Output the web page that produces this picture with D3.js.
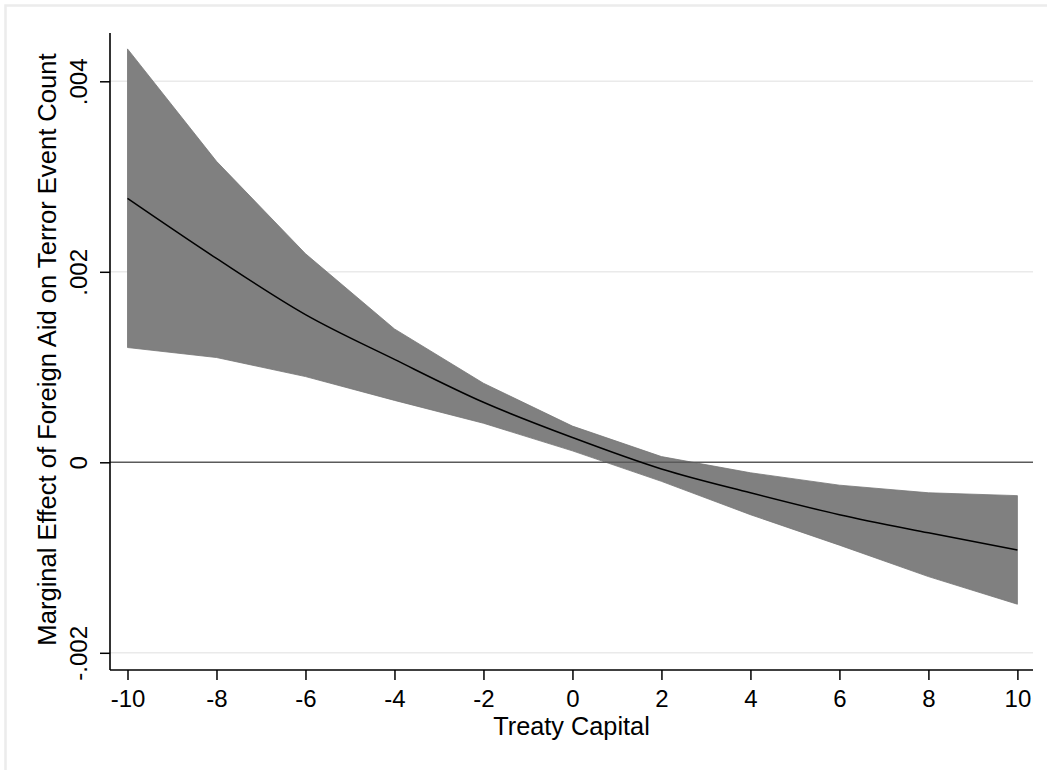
<!DOCTYPE html>
<html>
<head>
<meta charset="utf-8">
<script src="https://cdn.jsdelivr.net/npm/d3@7/dist/d3.min.js"></script>
<style>
  html, body { margin: 0; padding: 0; background: #ffffff; }
  svg { display: block; }
  text { font-family: "Liberation Sans", Arial, sans-serif; fill: #000; }
</style>
</head>
<body>
<svg id="chart" width="1047" height="770"></svg>
<script>
// Data (marginal effect)
const treatyCapital = [-10, -8, -6, -4, -2, 0, 2, 4, 6, 8, 10];
const marginalEffect = [0.00277, 0.00214, 0.00155, 0.00108, 0.00063, 0.00026, -0.00007, -0.00032, -0.00055, -0.00074, -0.00092];
const upperCI = [0.00434, 0.00316, 0.00219, 0.00140, 0.00083, 0.00038, 0.00006, -0.00011, -0.00024, -0.00032, -0.00035];
const lowerCI = [0.001205, 0.00110, 0.00090, 0.00065, 0.00041, 0.00012, -0.00020, -0.00055, -0.00087, -0.00120, -0.00149];
const xTicks = [-10, -8, -6, -4, -2, 0, 2, 4, 6, 8, 10];
const yTicks = [-0.002, 0, 0.002, 0.004];
const yTickLabels = ["-.002", "0", ".002", ".004"];
const xTitle = "Treaty Capital";
const yTitle = "Marginal Effect of Foreign Aid on Terror Event Count";

const svg = d3.select("#chart");

// outer frame (light gray, top and left visible)
svg.append("rect")
  .attr("x", 5.5).attr("y", 5.5).attr("width", 1100).attr("height", 800)
  .attr("fill", "#ffffff").attr("stroke", "#ececec").attr("stroke-width", 2.5);

const plotLeft = 110, plotRight = 1033, plotTop = 33, plotBottom = 670;

const x = d3.scaleLinear().domain([-10, 10]).range([127.5, 1017.4]);
const y = d3.scaleLinear().domain([-0.002, 0.004]).range([652.8, 81.3]);

// gridlines
svg.append("g").selectAll("line")
  .data(yTicks.filter(d => d !== 0))
  .join("line")
  .attr("x1", plotLeft).attr("x2", plotRight)
  .attr("y1", d => y(d)).attr("y2", d => y(d))
  .attr("stroke", "#eaeaea").attr("stroke-width", 1.5);

// confidence band
const pts = treatyCapital.map((t, i) => ({ t, m: marginalEffect[i], u: upperCI[i], l: lowerCI[i] }));
const area = d3.area().x(d => x(d.t)).y0(d => y(d.l)).y1(d => y(d.u));
svg.append("path").datum(pts)
  .attr("d", area)
  .attr("fill", "#808080").attr("stroke", "#767676").attr("stroke-width", 0.8);

// zero line
svg.append("line")
  .attr("x1", plotLeft).attr("x2", plotRight)
  .attr("y1", y(0)).attr("y2", y(0))
  .attr("stroke", "#5a5a5a").attr("stroke-width", 1.5);

// center line
const line = d3.line().x(d => x(d.t)).y(d => y(d.m)).curve(d3.curveMonotoneX);
svg.append("path").datum(pts)
  .attr("d", line)
  .attr("fill", "none").attr("stroke", "#000").attr("stroke-width", 1.5);

// X axis
const xAxis = d3.axisBottom(x).tickValues(xTicks).tickSize(10).tickSizeOuter(0).tickPadding(10)
  .tickFormat(d => (d < 0 ? "-" + Math.abs(d) : String(d)));
const gx = svg.append("g").attr("transform", `translate(0,${plotBottom})`).call(xAxis);
gx.select(".domain").remove();
gx.selectAll(".tick line").attr("stroke", "#000").attr("stroke-width", 1.5);
gx.selectAll(".tick text").attr("font-size", 24).attr("font-family", "Liberation Sans, Arial, sans-serif");
svg.append("line")
  .attr("x1", plotLeft).attr("x2", plotRight)
  .attr("y1", plotBottom).attr("y2", plotBottom)
  .attr("stroke", "#000").attr("stroke-width", 1.6);

// Y axis
const yAxis = d3.axisLeft(y).tickValues(yTicks).tickSize(10).tickSizeOuter(0)
  .tickFormat((d, i) => yTickLabels[i]);
const gy = svg.append("g").attr("transform", `translate(${plotLeft},0)`).call(yAxis);
gy.select(".domain").remove();
gy.selectAll(".tick line").attr("stroke", "#000").attr("stroke-width", 1.5);
gy.selectAll(".tick text")
  .attr("font-size", 24).attr("font-family", "Liberation Sans, Arial, sans-serif")
  .attr("text-anchor", "middle")
  .attr("dy", null)
  .attr("x", null)
  .attr("transform", "translate(-23,0) rotate(-90)");
svg.append("line")
  .attr("x1", plotLeft).attr("x2", plotLeft)
  .attr("y1", plotTop).attr("y2", plotBottom)
  .attr("stroke", "#000").attr("stroke-width", 1.6);

// titles
svg.append("text")
  .attr("x", (plotLeft + plotRight) / 2).attr("y", 735)
  .attr("text-anchor", "middle").attr("font-size", 25.3)
  .text(xTitle);

svg.append("text")
  .attr("transform", `translate(56,${(plotTop + plotBottom) / 2 - 2}) rotate(-90)`)
  .attr("text-anchor", "middle").attr("font-size", 25.6)
  .text(yTitle);
</script>
</body>
</html>
